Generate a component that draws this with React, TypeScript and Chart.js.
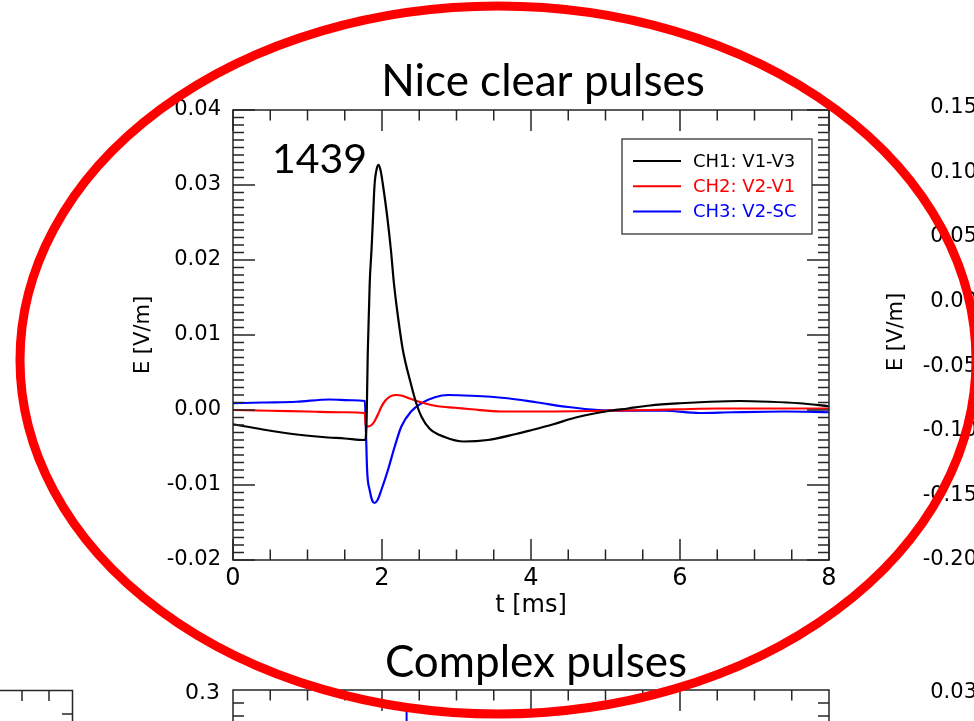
import React, { useEffect, useRef } from 'react';
import { Chart, registerables } from 'chart.js';

Chart.register(...registerables);

// ---------------- data ----------------
const ch1Time = [0, 0.4, 0.8, 1.2, 1.5, 1.77, 1.79, 1.81, 1.835, 1.86, 1.88, 1.9, 1.93, 1.955, 1.98, 2.01, 2.07, 2.12, 2.16, 2.215, 2.28, 2.385, 2.46, 2.53, 2.64, 2.84, 3.1, 3.42, 3.8, 4.0, 4.3, 4.6, 5.0, 5.3, 5.6, 6.0, 6.4, 6.8, 7.2, 7.6, 8.0];
const ch1Values = [-0.0019, -0.0026, -0.0032, -0.0036, -0.0038, -0.004, -0.0025, 0.008, 0.0169, 0.0215, 0.0258, 0.03, 0.0322, 0.0327, 0.032, 0.0302, 0.0258, 0.0213, 0.0169, 0.0124, 0.008, 0.0036, 0.0009, -0.0009, -0.0025, -0.0036, -0.0042, -0.004, -0.0032, -0.0027, -0.0019, -0.001, -0.0002, 0.0002, 0.0006, 0.0009, 0.0011, 0.0012, 0.0011, 0.0009, 0.0005];

const ch2Time = [0, 0.5, 1.0, 1.5, 1.77, 1.78, 1.81, 1.86, 1.9, 1.95, 1.99, 2.04, 2.08, 2.13, 2.19, 2.27, 2.35, 2.53, 2.75, 2.98, 3.2, 3.6, 4.2, 5.0, 5.6, 6.0, 6.5, 7.0, 7.5, 8.0];
const ch2Values = [0.0, -0.0001, -0.0002, -0.0003, -0.0004, -0.002, -0.0022, -0.002, -0.0015, -0.0005, 0.0004, 0.0012, 0.0016, 0.0019, 0.002, 0.0019, 0.0016, 0.001, 0.0005, 0.0003, 0.0001, -0.0002, -0.0002, -0.0001, 0.0, 0.0001, 0.0002, 0.0002, 0.0002, 0.0002];

const ch3Time = [0, 0.4, 0.85, 1.3, 1.6, 1.77, 1.785, 1.8, 1.835, 1.87, 1.9, 1.94, 1.99, 2.08, 2.17, 2.26, 2.39, 2.53, 2.71, 2.89, 3.2, 3.65, 4.09, 4.5, 4.9, 5.3, 5.8, 6.26, 6.7, 7.4, 8.0];
const ch3Values = [0.0009, 0.001, 0.0011, 0.0014, 0.0013, 0.0012, -0.003, -0.008, -0.0107, -0.0121, -0.0124, -0.012, -0.0107, -0.008, -0.0049, -0.0022, -0.0002, 0.0009, 0.0017, 0.002, 0.0019, 0.0016, 0.001, 0.0004, 0.0, -0.0001, -0.0001, -0.0004, -0.0003, -0.0002, -0.0003];

const seriesLabels = ['CH1: V1-V3', 'CH2: V2-V1', 'CH3: V2-SC'];
const seriesColors = ['#000000', '#ff0000', '#0000ff'];

const xRange = [0, 8];
const yRange = [-0.02, 0.04];
const xMajorStep = 2;
const yMajorStep = 0.01;
const xMinorStep = 0.5;
const yMinorStep = 0.001;

const xTitle = 't [ms]';
const yTitle = 'E [V/m]';
const eventLabel = '1439';
const slideTitleTop = 'Nice clear pulses';
const slideTitleBottom = 'Complex pulses';
const rightPanelTickLabels = ['0.15', '0.10', '0.05', '0.00', '-0.05', '-0.10', '-0.15', '-0.20'];
const bottomPanelTopLabel = '0.3';
const bottomRightPanelTopLabel = '0.03';
const complexPulseTime = [2.33];

const TICK_FONT = 'DejaVu Sans';
const SLIDE_FONT = 'Lato';
const FRAME = '#262626';

function toPoints(t: number[], v: number[]) {
  return t.map((x, i) => ({ x, y: v[i] }));
}

const framePlugin = {
  id: 'frameAndLegend',
  afterDatasetsDraw(chart: any) {
    const { ctx, chartArea: a, scales } = chart;
    const xs = scales.x;
    const ys = scales.y;
    ctx.save();
    ctx.strokeStyle = FRAME;
    ctx.lineWidth = 1.5;
    ctx.beginPath();
    const nx = Math.round((xs.max - xs.min) / xMinorStep);
    for (let i = 0; i <= nx; i++) {
      const v = xs.min + i * xMinorStep;
      const px = xs.getPixelForValue(v);
      const major = Math.abs(v / xMajorStep - Math.round(v / xMajorStep)) < 1e-6;
      const len = major ? 21 : 10.5;
      ctx.moveTo(px, a.bottom);
      ctx.lineTo(px, a.bottom - len);
      ctx.moveTo(px, a.top);
      ctx.lineTo(px, a.top + len);
    }
    const ny = Math.round((ys.max - ys.min) / yMinorStep);
    for (let i = 0; i <= ny; i++) {
      const v = ys.min + i * yMinorStep;
      const py = ys.getPixelForValue(v);
      const major = i % Math.round(yMajorStep / yMinorStep) === 0;
      const len = major ? 22 : 11;
      ctx.moveTo(a.left, py);
      ctx.lineTo(a.left + len, py);
      ctx.moveTo(a.right, py);
      ctx.lineTo(a.right - len, py);
    }
    ctx.stroke();
    ctx.strokeRect(a.left, a.top, a.right - a.left, a.bottom - a.top);

    // legend box
    const lx = 622, ly = 139, lw = 190, lh = 95;
    ctx.fillStyle = '#ffffff';
    ctx.fillRect(lx, ly, lw, lh);
    ctx.lineWidth = 1.3;
    ctx.strokeStyle = '#333333';
    ctx.strokeRect(lx, ly, lw, lh);
    ctx.font = `18px "${TICK_FONT}"`;
    ctx.textBaseline = 'middle';
    ctx.textAlign = 'left';
    chart.data.datasets.forEach((ds: any, i: number) => {
      const yy = ly + 22 + i * 25.2;
      ctx.strokeStyle = ds.borderColor;
      ctx.lineWidth = 2;
      ctx.beginPath();
      ctx.moveTo(lx + 11, yy);
      ctx.lineTo(lx + 59, yy);
      ctx.stroke();
      ctx.fillStyle = ds.borderColor;
      ctx.fillText(ds.label, lx + 71, yy + 1);
    });

    // event number
    ctx.fillStyle = '#000000';
    ctx.font = `41px "${SLIDE_FONT}"`;
    ctx.textBaseline = 'alphabetic';
    ctx.textAlign = 'left';
    ctx.fillText(eventLabel, 272, 173);
    ctx.restore();
  },
  afterDraw(chart: any) {
    const { ctx, chartArea: a, scales } = chart;
    const xs = scales.x;
    ctx.save();
    // slide titles
    ctx.fillStyle = '#000000';
    ctx.textAlign = 'center';
    ctx.textBaseline = 'alphabetic';
    ctx.font = `44px "${SLIDE_FONT}"`;
    ctx.fillText(slideTitleTop, 543, 96);
    ctx.fillText(slideTitleBottom, 536, 677);

    // right neighbouring panel (cut off)
    ctx.font = `21px "${TICK_FONT}"`;
    ctx.textAlign = 'right';
    ctx.textBaseline = 'middle';
    rightPanelTickLabels.forEach((lab, i) => {
      ctx.fillText(lab, 977, 107.7 + i * 64.6);
    });
    ctx.fillText(bottomRightPanelTopLabel, 977, 693);
    ctx.save();
    ctx.translate(897, 332);
    ctx.rotate(-Math.PI / 2);
    ctx.textAlign = 'center';
    ctx.fillText(yTitle, 0, 0);
    ctx.restore();

    // bottom panel (cut off)
    ctx.textAlign = 'right';
    ctx.font = `22px "${TICK_FONT}"`;
    ctx.fillText(bottomPanelTopLabel, 220, 693);
    ctx.strokeStyle = FRAME;
    ctx.lineWidth = 1.5;
    const bTop = 690;
    ctx.beginPath();
    ctx.moveTo(a.left, 722);
    ctx.lineTo(a.left, bTop);
    ctx.lineTo(a.right, bTop);
    ctx.lineTo(a.right, 722);
    const nx = Math.round((xs.max - xs.min) / xMinorStep);
    for (let i = 0; i <= nx; i++) {
      const v = xs.min + i * xMinorStep;
      const px = xs.getPixelForValue(v);
      const major = Math.abs(v / xMajorStep - Math.round(v / xMajorStep)) < 1e-6;
      ctx.moveTo(px, bTop);
      ctx.lineTo(px, bTop + (major ? 21 : 10.5));
    }
    [703, 716].forEach((yy) => {
      ctx.moveTo(a.left, yy);
      ctx.lineTo(a.left + 11, yy);
      ctx.moveTo(a.right, yy);
      ctx.lineTo(a.right - 11, yy);
    });
    // left neighbouring panel corner
    ctx.moveTo(0, 690.5);
    ctx.lineTo(72.5, 690.5);
    ctx.lineTo(72.5, 722);
    ctx.moveTo(22, 690.5);
    ctx.lineTo(22, 701);
    ctx.moveTo(49, 690.5);
    ctx.lineTo(49, 701);
    ctx.moveTo(72.5, 714);
    ctx.lineTo(62, 714);
    ctx.stroke();
    ctx.strokeStyle = seriesColors[2];
    ctx.lineWidth = 2;
    ctx.beginPath();
    complexPulseTime.forEach((t) => {
      const px = xs.getPixelForValue(t);
      ctx.moveTo(px, 708);
      ctx.lineTo(px, 722);
    });
    ctx.stroke();

    // red highlight ellipse
    ctx.strokeStyle = '#ff0000';
    ctx.lineWidth = 9;
    ctx.beginPath();
    ctx.ellipse(498, 360, 478, 354, 0, 0, Math.PI * 2);
    ctx.stroke();
    ctx.restore();
  },
};

export default function App() {
  const ref = useRef<HTMLCanvasElement | null>(null);
  useEffect(() => {
    document.body.style.margin = '0';
    const canvas = ref.current;
    if (!canvas) return;
    const chart = new Chart(canvas, {
      type: 'line',
      data: {
        datasets: [
          { label: seriesLabels[0], data: toPoints(ch1Time, ch1Values), borderColor: seriesColors[0] },
          { label: seriesLabels[1], data: toPoints(ch2Time, ch2Values), borderColor: seriesColors[1] },
          { label: seriesLabels[2], data: toPoints(ch3Time, ch3Values), borderColor: seriesColors[2] },
        ].map((d) => ({
          ...d,
          borderWidth: 2.2,
          pointRadius: 0,
          fill: false,
          cubicInterpolationMode: 'monotone' as const,
        })),
      },
      options: {
        responsive: false,
        animation: false,
        devicePixelRatio: 1,
        layout: { padding: { left: 131, top: 110, right: 145, bottom: 101 } },
        plugins: { legend: { display: false }, tooltip: { enabled: false }, title: { display: false } },
        scales: {
          x: {
            type: 'linear',
            min: xRange[0],
            max: xRange[1],
            grid: { display: false, drawTicks: false },
            border: { display: false },
            ticks: {
              stepSize: xMajorStep,
              color: '#000',
              padding: 4,
              maxRotation: 0,
              font: { family: TICK_FONT, size: 24 },
              callback: (v: any) => String(Math.round(Number(v))),
            },
            title: {
              display: true,
              text: xTitle,
              color: '#000',
              font: { family: TICK_FONT, size: 24 },
              padding: { top: 0, bottom: 0 },
            },
            afterFit: (s: any) => {
              s.height = 60;
            },
          },
          y: {
            type: 'linear',
            min: yRange[0],
            max: yRange[1],
            grid: { display: false, drawTicks: false },
            border: { display: false },
            ticks: {
              stepSize: yMajorStep,
              color: '#000',
              padding: 12,
              font: { family: TICK_FONT, size: 21 },
              callback: (v: any) => {
                const n = Number(v);
                return Math.abs(n) < 1e-9 ? '0.00' : n.toFixed(2);
              },
            },
            title: {
              display: true,
              text: yTitle,
              color: '#000',
              font: { family: TICK_FONT, size: 21 },
              padding: { top: 0, bottom: 0 },
            },
            afterFit: (s: any) => {
              s.width = 102;
            },
          },
        },
      },
      plugins: [framePlugin],
    });
    return () => chart.destroy();
  }, []);
  return (
    <div style={{ position: 'absolute', left: 0, top: 0, width: 974, height: 721, background: '#fff', overflow: 'hidden' }}>
      <canvas ref={ref} width={974} height={721} style={{ display: 'block', width: 974, height: 721 }} />
    </div>
  );
}
